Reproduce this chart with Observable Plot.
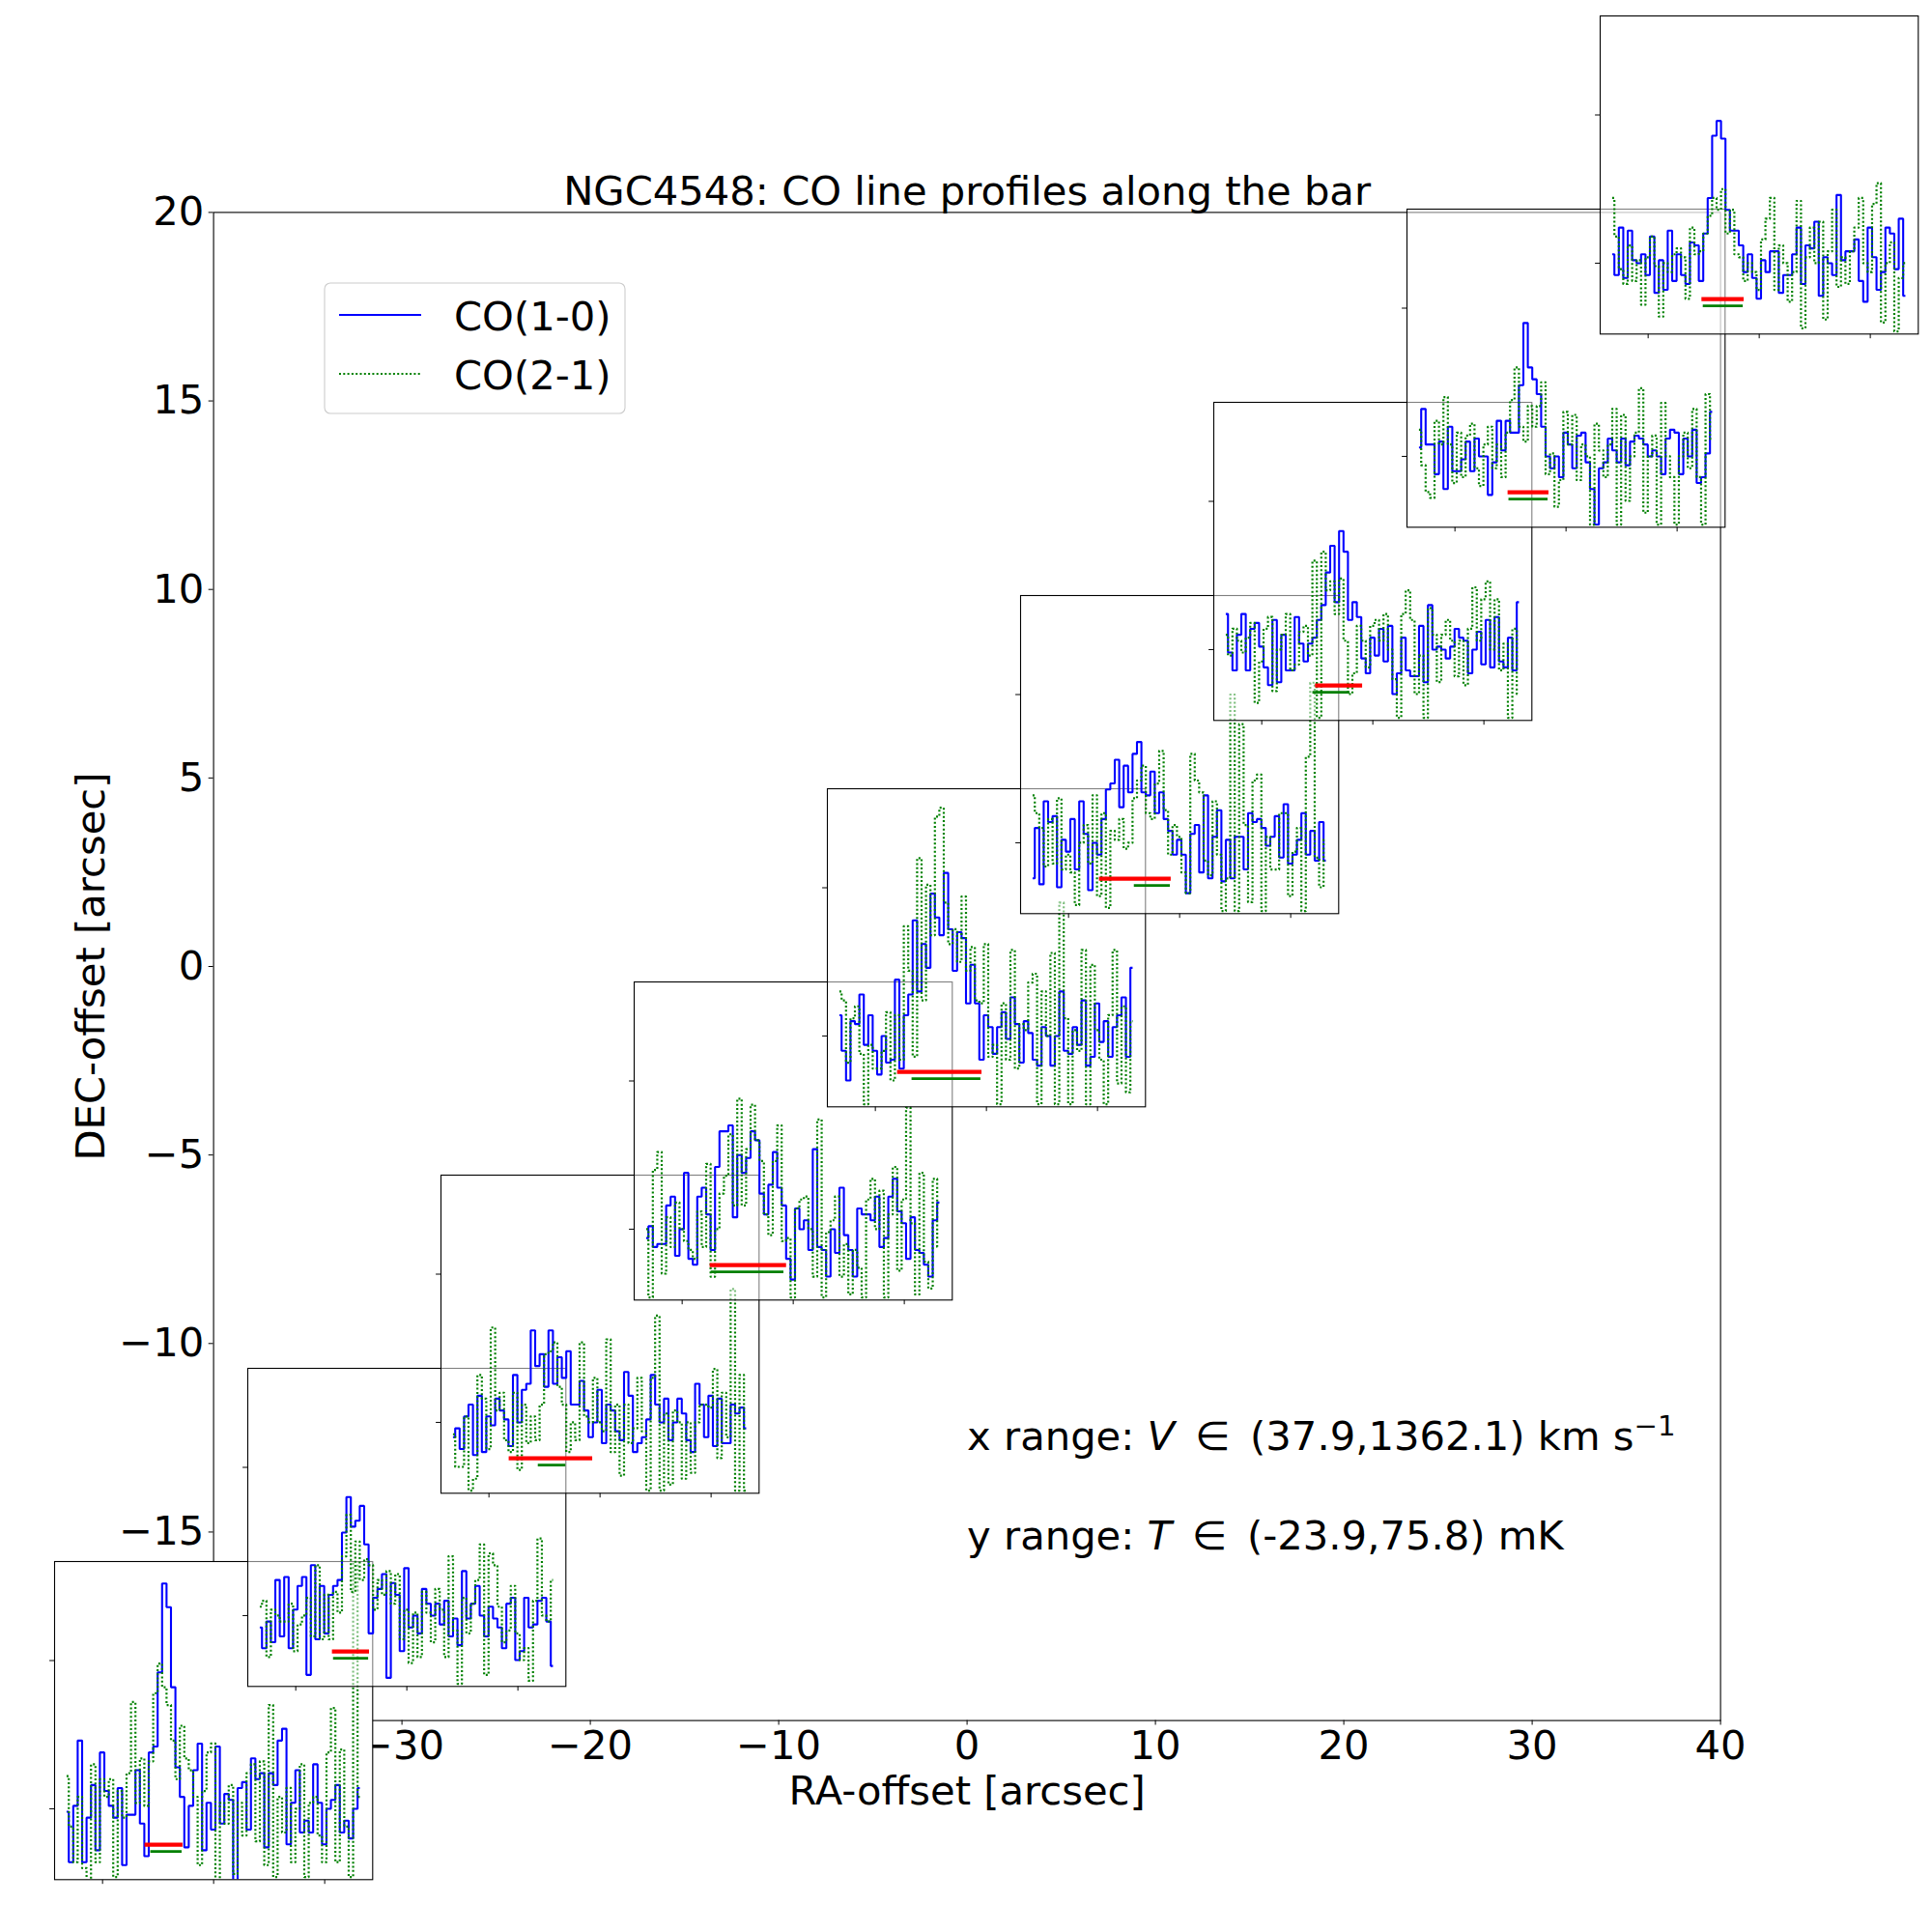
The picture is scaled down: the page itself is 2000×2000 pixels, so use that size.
<!DOCTYPE html>
<html>
<head>
<meta charset="utf-8">
<script src="https://cdn.jsdelivr.net/npm/d3@7"></script>
<script src="https://cdn.jsdelivr.net/npm/@observablehq/plot@0.6"></script>
<style>
  html, body { margin: 0; padding: 0; background: #fff; overflow: hidden; }
  #chart { position: relative; width: 2000px; height: 2000px; }
  .inset { position: absolute; }
</style>
</head>
<body>
<div id="chart"></div>
<script>
// ---------- data ----------
const titleText = "NGC4548: CO line profiles along the bar";
const xLabel = "RA-offset [arcsec]";
const yLabel = "DEC-offset [arcsec]";
const raTicks = [-40, -30, -20, -10, 0, 10, 20, 30, 40];
const decTicks = [-20, -15, -10, -5, 0, 5, 10, 15, 20];
const seriesNames = ["CO(1-0)", "CO(2-1)"];
const notes = ["x range: V \u2208 (37.9,1362.1) km s\u22121", "y range: T \u2208 (-23.9,75.8) mK"];

// positions of the spectra (arcsec)
const raOffset  = [-40.0, -29.76, -19.5, -9.24, 1.01, 11.27, 21.53, 31.78, 42.04];
const decOffset = [-20.0, -14.88, -9.75, -4.63, 0.50, 5.63, 10.75, 15.88, 21.0];

// spectral axis (km/s)
const velocity = [38,58,78,98,118,138,158,178,198,218,238,258,278,298,318,338,358,378,398,418,438,458,478,498,518,538,558,578,598,618,638,658,678,698,718,738,758,778,798,818,838,858,878,898,918,938,958,978,998,1018,1038,1058,1078,1098,1118,1138,1158,1178,1198,1218,1238,1258,1278,1298,1318,1338,1358];
const velTicks = [200, 700, 1200];
const tempTicks = [0, 50];

// CO(1-0) spectra, mK
const co10_1 = [-1,-18,1,23,-18,-3,8,-14,19,6,1,-3,7,-19,-2,-2,13,-5,-16,19,21,46,76,68,41,14,4,-13,1,13,22,-14,2,-7,21,-5,5,3,-25,7,9,-7,17,10,12,-13,12,8,23,27,-12,2,13,-8,-4,-8,15,2,-12,0,3,8,-8,-4,-10,0,7];
const co10_2 = [-4,-11,-2,-9,12,-7,13,-11,2,10,13,-20,17,-8,10,-6,7,10,12,28,40,30,32,37,24,-6,6,9,14,-21,11,7,-12,16,-4,0,-6,9,4,0,4,-3,5,-7,-1,-10,15,-1,4,10,0,-7,3,-1,-4,-11,4,6,-15,-12,6,-4,-3,5,6,-2,-17];
const co10_3 = [-5,-2,-9,2,6,-11,9,-10,2,-1,8,4,1,-8,16,0,11,13,31,19,23,12,31,13,22,15,24,6,6,14,4,-5,0,11,-7,6,4,-3,-6,17,9,-10,-7,-5,1,16,6,0,8,-6,0,8,3,-6,-10,13,6,-5,9,-8,8,-7,-7,6,3,5,-2];
const co10_4 = [-3,1,-6,-5,-5,8,11,-9,0,19,-10,-12,11,14,5,-7,21,33,33,35,4,25,19,24,33,30,12,5,15,26,14,8,-10,-17,7,0,3,-7,27,-6,-7,-16,0,-8,14,-2,-7,-16,7,5,5,3,11,-6,-3,11,17,6,2,-10,4,-7,-8,-12,-16,3,9];
const co10_5 = [7,-5,-15,5,4,14,-3,7,-5,-13,0,-9,-8,19,-11,7,14,39,15,31,23,48,40,34,55,36,22,35,33,11,24,11,-8,7,3,-6,3,8,-1,13,4,-9,5,1,-8,-10,3,0,-10,0,15,-5,-6,3,-3,12,-10,-7,11,-2,5,-7,3,7,13,-7,23];
const co10_6 = [-12,5,-14,14,7,9,-15,1,-3,8,-9,14,3,-16,0,-4,8,18,20,28,12,26,17,30,34,17,16,24,10,17,8,4,-4,1,-4,-17,3,6,-10,16,-12,2,11,-13,1,-12,2,2,-9,10,7,8,5,-1,2,9,-5,13,-7,-4,1,10,-4,4,-6,7,-6];
const co10_7 = [12,-1,-7,5,12,-7,7,9,1,-6,-12,10,-11,5,-7,-7,11,2,-4,2,4,10,15,26,35,16,40,33,10,16,11,-3,-8,4,-2,7,-4,8,-15,-8,4,-7,-9,-9,8,-11,15,0,1,0,-3,1,7,4,3,-8,0,6,-5,10,-6,11,-4,-6,4,-7,16];
const co10_8 = [3,16,4,4,-6,5,-11,10,-5,-5,-1,5,-5,6,0,0,-13,-2,12,2,12,8,8,24,45,30,26,21,10,0,-4,0,-7,8,4,-4,7,8,-2,-11,-23,-4,-2,6,2,-2,6,-3,5,7,6,4,0,2,0,-6,6,9,8,-6,6,0,9,-9,-7,1,15];
const co10_9 = [3,-4,12,-5,11,1,0,3,-4,9,-10,1,-9,11,-6,3,-4,-7,7,6,-6,10,22,43,48,42,18,11,11,6,-3,3,-5,-12,1,-3,4,4,-10,-4,-4,3,12,-7,6,5,14,-11,2,0,-4,23,1,4,4,8,-6,-13,12,2,-9,-3,12,10,-2,15,-11];

// CO(2-1) spectra, mK
const co21_1 = [11,-6,-18,4,-20,-25,15,-18,10,4,10,-23,6,-3,12,36,2,17,1,16,39,49,41,35,23,10,28,17,13,4,-19,6,19,22,-25,2,-5,8,-22,2,-9,12,15,-11,16,-19,35,-23,4,-8,7,-18,0,15,-23,2,4,-9,-18,19,34,-18,20,-6,-23,90,4];
const co21_2 = [3,5,-14,2,0,-2,-2,4,-12,-3,0,6,-7,17,-8,7,-8,8,1,20,34,8,25,12,19,17,2,12,7,15,4,14,-8,2,-16,1,-14,8,1,-9,9,2,-14,20,-5,-23,6,-6,4,12,24,-20,21,17,3,-9,-5,10,-6,-15,-11,-22,5,26,0,-2,12];
const co21_3 = [-4,-15,-15,2,-23,-19,16,8,-9,32,4,10,-6,-10,10,-16,6,-7,2,-6,6,23,24,27,12,6,-10,0,-6,27,2,0,15,0,-3,28,-10,6,-18,6,-7,-2,15,-3,-23,15,36,-23,3,-21,4,0,-19,0,-17,0,6,6,5,18,-12,10,-5,45,-23,16,-23];
const co21_4 = [0,-23,20,26,-15,4,-6,9,0,-4,-7,-10,6,-6,22,-16,0,12,18,32,8,44,8,27,42,30,23,5,-2,23,35,-4,-3,-23,7,10,11,0,-16,37,-23,-1,3,11,-16,-5,-22,-7,-13,-23,10,17,0,13,-23,5,21,-14,10,41,2,-22,19,-11,-20,17,-6];
const co21_5 = [15,12,-9,6,10,-6,-23,-3,-11,-11,-5,8,-15,7,-8,37,22,-7,60,12,51,34,74,77,45,31,36,25,47,22,30,12,11,31,-7,-3,-23,11,-8,29,-11,4,2,18,21,-23,15,0,28,-23,45,6,-23,2,-5,29,-23,24,2,-8,-23,7,29,-16,10,-19,5];
const co21_6 = [16,10,5,-8,8,-7,15,-9,-4,-10,-21,0,6,-7,16,-18,10,-22,4,1,8,-2,0,15,21,26,10,8,20,31,11,-4,6,2,-10,-17,30,21,17,-6,-11,14,-4,-23,-12,50,-23,40,6,-20,21,23,-23,2,-9,-9,10,10,-18,-3,5,-23,29,54,-5,-15,1];
const co21_7 = [5,-2,7,3,-1,4,9,-18,-4,7,11,-14,0,5,12,-7,-5,6,8,-2,30,-23,33,20,23,12,24,3,-15,-8,8,3,-6,8,10,3,12,0,-10,-23,12,20,10,-15,-2,-23,14,5,-11,5,10,3,-9,3,-12,7,21,3,17,23,0,17,-7,2,-23,7,-15];
const co21_8 = [9,-3,-12,-14,12,4,20,4,-9,8,-7,7,11,-4,-10,4,10,-4,4,-7,8,19,30,10,5,17,10,17,25,-6,1,-17,-8,15,4,14,-8,4,0,-23,11,2,-7,4,16,-23,14,-15,0,8,23,-19,0,7,-23,18,0,-7,-23,0,8,-4,16,-7,-23,21,6];
const co21_9 = [22,9,-2,-7,6,-6,1,-14,2,9,-1,-18,0,-3,3,5,2,-12,12,3,4,10,16,22,18,25,10,18,3,2,-6,0,-3,-9,8,15,22,-9,6,0,-13,-3,21,-22,2,12,0,14,-19,4,18,-8,2,-7,4,12,22,0,-3,20,27,-20,0,7,-23,-5,0];

const co10 = [co10_1, co10_2, co10_3, co10_4, co10_5, co10_6, co10_7, co10_8, co10_9];
const co21 = [co21_1, co21_2, co21_3, co21_4, co21_5, co21_6, co21_7, co21_8, co21_9];

// line windows (km/s) and the level (mK) at which they are marked
const windowCO10Start = [391, 365, 291, 326, 300, 339, 442, 439, 442];
const windowCO10End   = [562, 532, 667, 670, 680, 662, 654, 623, 632];
const windowCO21Start = [417, 370, 422, 330, 365, 496, 430, 443, 448];
const windowCO21End   = [558, 528, 546, 658, 675, 658, 597, 619, 628];
const windowCO10Level = -12.1;
const windowCO21Level = -14.4;

// ---------- drawing ----------
const FONT = "'DejaVu Sans', 'Liberation Sans', sans-serif";
const FS = 41.7;
const insetSize = 329.3;
const BLUE_W = 2.1, GREEN_W = 2.2, GREEN_DASH = "2,2.3";
const container = document.getElementById("chart");

const signed = d => (d < 0 ? "\u2212" + Math.abs(d) : String(d));
// the lowest tick labels lie under the first spectrum box and are not visible
const xTickFormat = d => (d === raTicks[0] ? "" : signed(d));
const yTickFormat = d => (d === decTicks[0] ? "" : signed(d));

const main = Plot.plot({
  width: 2000,
  height: 2000,
  marginLeft: 220.6,
  marginRight: 219.4,
  marginTop: 219.4,
  marginBottom: 219.4,
  style: {fontFamily: FONT, fontSize: FS + "px", background: "white", color: "black", overflow: "visible"},
  x: {domain: [-40, 40], ticks: raTicks, tickSize: 4.9, tickPadding: 5, tickFormat: xTickFormat, label: null},
  y: {domain: [-20, 20], ticks: decTicks, tickSize: 4.9, tickPadding: 5, tickFormat: yTickFormat, label: null},
  marks: [
    Plot.frame({stroke: "black", strokeWidth: 1.1}),
    Plot.text([titleText], {text: d => d, frameAnchor: "top", dy: -7.7, lineAnchor: "bottom", fontSize: FS}),
    Plot.text([xLabel], {text: d => d, frameAnchor: "bottom", dy: 86.4, lineAnchor: "bottom", fontSize: FS}),
    Plot.text([yLabel], {text: d => d, frameAnchor: "left", dx: -113, rotate: -90, lineAnchor: "bottom", textAnchor: "middle", fontSize: FS}),
    Plot.text(notes, {text: d => d, x: () => 0, y: (d, i) => [-12.82, -15.46][i], textAnchor: "start", lineAnchor: "bottom", fontSize: FS})
  ]
});

// rich text for the range notes (italic symbol, superscript exponent)
d3.select(main).selectAll("text").each(function () {
  const s = this.textContent;
  if (s.startsWith("x range") || s.startsWith("y range")) {
    const isX = s.startsWith("x range");
    const t = d3.select(this);
    t.text(null);
    t.append("tspan").text(isX ? "x range: " : "y range: ");
    t.append("tspan").attr("font-style", "italic").text(isX ? "V" : "T");
    if (isX) {
      t.append("tspan").text("\u2002\u2208\u2002(37.9,1362.1) km s");
      t.append("tspan").attr("font-size", "70%").attr("dy", "-0.52em").text("\u22121");
    } else {
      t.append("tspan").text("\u2002\u2208\u2002(-23.9,75.8) mK");
    }
  }
});

// legend
const lg = d3.select(main).append("g").attr("text-anchor", "start");
const lx = 336, ly = 293;
lg.append("rect").attr("x", lx).attr("y", ly).attr("width", 311).attr("height", 135)
  .attr("rx", 6).attr("fill", "white").attr("fill-opacity", 0.8)
  .attr("stroke", "#cccccc").attr("stroke-width", 1.1);
lg.append("line").attr("x1", lx + 15).attr("x2", lx + 100).attr("y1", ly + 33).attr("y2", ly + 33)
  .attr("stroke", "blue").attr("stroke-width", BLUE_W);
lg.append("line").attr("x1", lx + 15).attr("x2", lx + 100).attr("y1", ly + 94).attr("y2", ly + 94)
  .attr("stroke", "green").attr("stroke-width", GREEN_W).attr("stroke-dasharray", GREEN_DASH);
lg.selectAll("text.lab").data(seriesNames).enter().append("text")
  .attr("class", "lab")
  .attr("x", lx + 134).attr("y", (d, i) => ly + 48.5 + i * 61.5)
  .attr("text-anchor", "start")
  .attr("font-family", FONT).attr("font-size", FS).attr("fill", "black").text(d => d);

container.append(main);

const sx = main.scale("x");
const sy = main.scale("y");

for (let i = 0; i < raOffset.length; i++) {
  const blue = velocity.map((v, k) => [v, co10[i][k]]);
  const green = velocity.map((v, k) => [v, co21[i][k]]);
  const windows = [
    {start: windowCO10Start[i], end: windowCO10End[i], level: windowCO10Level, line: "CO(1-0)"},
    {start: windowCO21Start[i], end: windowCO21End[i], level: windowCO21Level, line: "CO(2-1)"}
  ];
  const inset = Plot.plot({
    width: insetSize,
    height: insetSize,
    margin: 0,
    style: {overflow: "visible", background: "none", fontFamily: FONT},
    x: {domain: [-16, 1416], ticks: velTicks, tickSize: 4.9, tickFormat: () => "", label: null},
    y: {domain: [-23.9, 83.4], ticks: tempTicks, tickSize: 4.9, tickFormat: () => "", label: null},
    marks: [
      Plot.frame({fill: "white", fillOpacity: i === 0 ? 1 : 0.5}),
      Plot.line(blue, {curve: "step", stroke: "blue", strokeWidth: BLUE_W, strokeLinejoin: "miter", strokeLinecap: "butt", clip: true}),
      Plot.line(green, {curve: "step", stroke: "green", strokeWidth: GREEN_W, strokeDasharray: GREEN_DASH, strokeLinecap: "butt", clip: true}),
      Plot.ruleY(windows, {y: "level", x1: "start", x2: "end",
        stroke: d => d.line === "CO(1-0)" ? "red" : "green",
        strokeWidth: d => d.line === "CO(1-0)" ? 4.2 : 2.8}),
      Plot.frame({stroke: "black", strokeWidth: 1.1})
    ]
  });
  const div = document.createElement("div");
  div.className = "inset";
  div.style.left = (sx.apply(raOffset[i]) - insetSize / 2) + "px";
  div.style.top = (sy.apply(decOffset[i]) - insetSize / 2) + "px";
  div.style.width = insetSize + "px";
  div.style.height = insetSize + "px";
  div.append(inset);
  container.append(div);
}
</script>
</body>
</html>
